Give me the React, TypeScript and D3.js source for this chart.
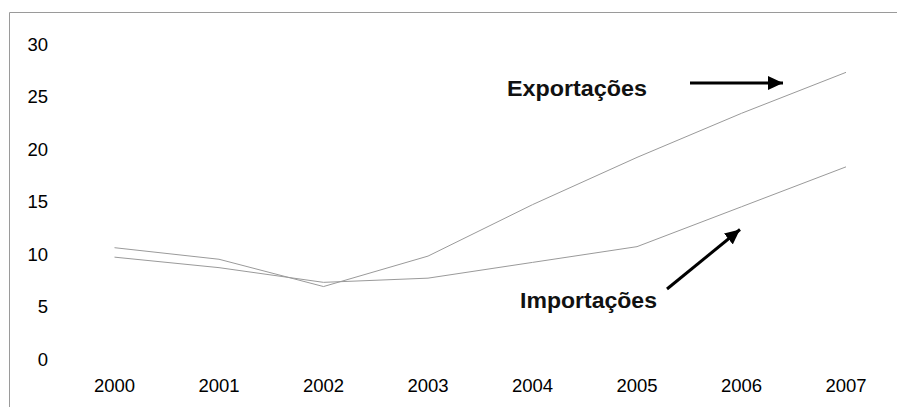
import React from 'react';
import * as d3 from 'd3';

const years = ['2000', '2001', '2002', '2003', '2004', '2005', '2006', '2007'];
const exportacoes = [10.6, 9.5, 6.9, 9.8, 14.7, 19.2, 23.4, 27.3];
const importacoes = [9.7, 8.7, 7.3, 7.7, 9.2, 10.7, 14.5, 18.3];
const yTicks = [0, 5, 10, 15, 20, 25, 30];

const WIDTH = 897;
const HEIGHT = 407;
const FONT = '"Liberation Sans", Arial, sans-serif';

const App: React.FC = () => {
  const x = d3.scalePoint<string>().domain(years).range([114.5, 846]);
  const y = d3.scaleLinear().domain([0, 30]).range([359, 44]);

  const line = d3
    .line<number>()
    .x((_, i) => x(years[i]) || 0)
    .y(d => y(d));

  return (
    <svg
      width={WIDTH}
      height={HEIGHT}
      style={{ position: 'absolute', left: 0, top: 0, background: '#fff' }}
      fontFamily={FONT}
    >
      <defs>
        <marker
          id="head"
          markerUnits="userSpaceOnUse"
          markerWidth={16}
          markerHeight={14}
          refX={15}
          refY={7}
          orient="auto"
        >
          <path d="M0,0 L15,7 L0,14 Z" fill="#000" />
        </marker>
      </defs>

      {/* frame: only top and left edges visible */}
      <line x1={9.5} x2={WIDTH} y1={12.5} y2={12.5} stroke="#9a9a9a" strokeWidth={1} />
      <line x1={9.5} x2={9.5} y1={12.5} y2={HEIGHT} stroke="#9a9a9a" strokeWidth={1} />

      {/* y tick labels */}
      {yTicks.map(t => (
        <text key={t} x={48} y={y(t)} dy="0.36em" textAnchor="end" fontSize={18.5} fill="#000">
          {t}
        </text>
      ))}

      {/* x tick labels */}
      {years.map(yr => (
        <text key={yr} x={x(yr)} y={385.5} dy="0.36em" textAnchor="middle" fontSize={18.5} fill="#000">
          {yr}
        </text>
      ))}

      <path d={line(exportacoes) || ''} fill="none" stroke="#9a9a9a" strokeWidth={1} />
      <path d={line(importacoes) || ''} fill="none" stroke="#9a9a9a" strokeWidth={1} />

      {/* annotations */}
      <text x={507} y={95.5} fontSize={22} fontWeight="bold" fill="#111" textLength={140} lengthAdjust="spacingAndGlyphs">
        Exportações
      </text>
      <line x1={690} y1={83} x2={783} y2={83} stroke="#000" strokeWidth={3} markerEnd="url(#head)" />

      <text x={520} y={307.5} fontSize={22} fontWeight="bold" fill="#111" textLength={137} lengthAdjust="spacingAndGlyphs">
        Importações
      </text>
      <line x1={667} y1={289} x2={740} y2={229.5} stroke="#000" strokeWidth={3} markerEnd="url(#head)" />
    </svg>
  );
};

export default App;
